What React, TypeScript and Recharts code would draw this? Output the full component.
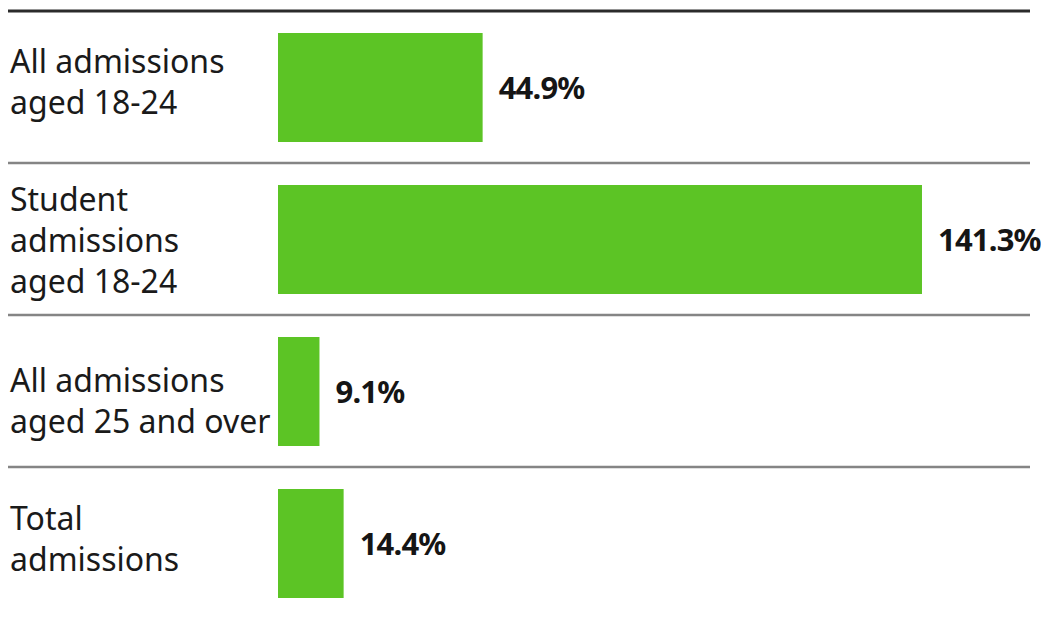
import { BarChart, Bar, XAxis, YAxis, LabelList } from "recharts";

const categories: string[] = [
  "All admissions aged 18-24",
  "Student admissions aged 18-24",
  "All admissions aged 25 and over",
  "Total admissions",
];

// how each category label breaks onto lines
const categoryLines: string[][] = [
  ["All admissions", "aged 18-24"],
  ["Student", "admissions", "aged 18-24"],
  ["All admissions", "aged 25 and over"],
  ["Total", "admissions"],
];

const increases: number[] = [44.9, 141.3, 9.1, 14.4];

const data = categories.map((name, i) => ({ name, value: increases[i] }));

const FONT = "'Noto Sans', sans-serif";
const LINE_HEIGHT = 41;
// small vertical nudges so the labels sit like the original layout
const LABEL_NUDGE = [-7, 0, 8, -6];

const CategoryTick = (props: any) => {
  const { y, payload, index } = props;
  const idx = categories.indexOf(payload.value);
  const lines = categoryLines[idx] ?? [payload.value];
  const half = payload.offset ?? 76;
  const startY = y - ((lines.length - 1) * LINE_HEIGHT) / 2 + (LABEL_NUDGE[idx] ?? 0);
  return (
    <g>
      {index === 0 && (
        <line x1={8} x2={1030} y1={y - half} y2={y - half} stroke="#2b2b2b" strokeWidth={3} />
      )}
      {index < categories.length - 1 && (
        <line x1={8} x2={1030} y1={y + half} y2={y + half} stroke="#858585" strokeWidth={2.5} />
      )}
      <text
        x={10}
        y={startY}
        fill="#1a1a1a"
        textAnchor="start"
        dominantBaseline="central"
        style={{ fontSize: 32, fontFamily: FONT }}
      >
        {lines.map((l, i) => (
          <tspan key={i} x={10} dy={i === 0 ? 0 : LINE_HEIGHT}>
            {l}
          </tspan>
        ))}
      </text>
    </g>
  );
};

export default function App() {
  return (
    <div style={{ position: "absolute", left: 0, top: 0, background: "#fff" }}>
      <BarChart
        width={1041}
        height={619}
        data={data}
        layout="vertical"
        margin={{ top: 11, right: 11, left: 0, bottom: 0 }}
      >
        <XAxis type="number" domain={[0, 165]} hide />
        <YAxis
          type="category"
          dataKey="name"
          width={278}
          axisLine={false}
          tickLine={false}
          tick={<CategoryTick />}
          interval={0}
        />
        <Bar dataKey="value" fill="#5cc425" barSize={109} isAnimationActive={false}>
          <LabelList
            dataKey="value"
            position="right"
            offset={16}
            formatter={(v: any) => `${v}%`}
            style={{
              fontSize: 31,
              fontWeight: 700,
              fontFamily: FONT,
              fill: "#151515",
              letterSpacing: -0.8,
            }}
          />
        </Bar>
      </BarChart>
    </div>
  );
}
